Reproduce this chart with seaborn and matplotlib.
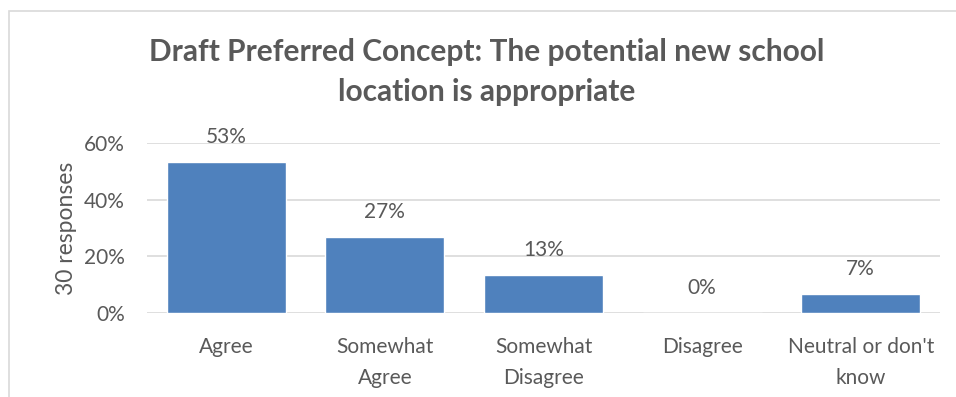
import matplotlib
matplotlib.use("Agg")
import matplotlib.pyplot as plt
import seaborn as sns
import pandas as pd
from matplotlib.patches import Rectangle
from matplotlib.ticker import PercentFormatter

# data (30 responses)
categories = ["Agree", "Somewhat\nAgree", "Somewhat\nDisagree", "Disagree", "Neutral or don't\nknow"]
shares = [0.533, 0.267, 0.133, 0.0, 0.067]
bar_labels = ["53%", "27%", "13%", "0%", "7%"]

df = pd.DataFrame({"category": categories, "share": shares})

sns.set_theme(style="white")
plt.rcParams["font.family"] = ["Lato", "DejaVu Sans"]

grey = "#595959"
fig = plt.figure(figsize=(9.56, 3.97), dpi=100)
ax = fig.add_axes([147 / 956, 1 - 313 / 397, (940 - 147) / 956, (313 - 143) / 397])

sns.barplot(data=df, x="category", y="share", color="#4F81BD", saturation=1,
            width=0.75, ax=ax)

ax.set_ylim(0, 0.6)
ax.set_yticks([0, 0.2, 0.4, 0.6])
ax.yaxis.set_major_formatter(PercentFormatter(1.0, decimals=0))
ax.grid(axis="y", color="#D9D9D9", linewidth=1.2)
ax.set_axisbelow(True)
for s in ax.spines.values():
    s.set_visible(False)
ax.tick_params(axis="both", length=0, labelsize=15, labelcolor=grey)
ax.tick_params(axis="x", pad=17)
ax.tick_params(axis="y", pad=16)
for lbl in ax.get_xticklabels():
    lbl.set_linespacing(1.7)
ax.set_xlabel("")
ax.set_ylabel("30 responses", fontsize=16.5, color=grey, labelpad=5)

for c in ax.containers:
    ax.bar_label(c, labels=bar_labels, padding=11, fontsize=15, color=grey)

fig.text(487 / 956, 1 - 72 / 397,
         "Draft Preferred Concept: The potential new school\nlocation is appropriate",
         ha="center", va="center", fontsize=21.5, fontweight="bold", color=grey,
         linespacing=1.55)

# chart frame (cut off on the right and bottom)
fig.patches.append(Rectangle((9 / 956, -0.1), 1.2, 1 - 11 / 397 + 0.1,
                             transform=fig.transFigure, fill=False,
                             edgecolor="#D9D9D9", linewidth=1.2))

fig.savefig("out.png", dpi=100, facecolor="white")
